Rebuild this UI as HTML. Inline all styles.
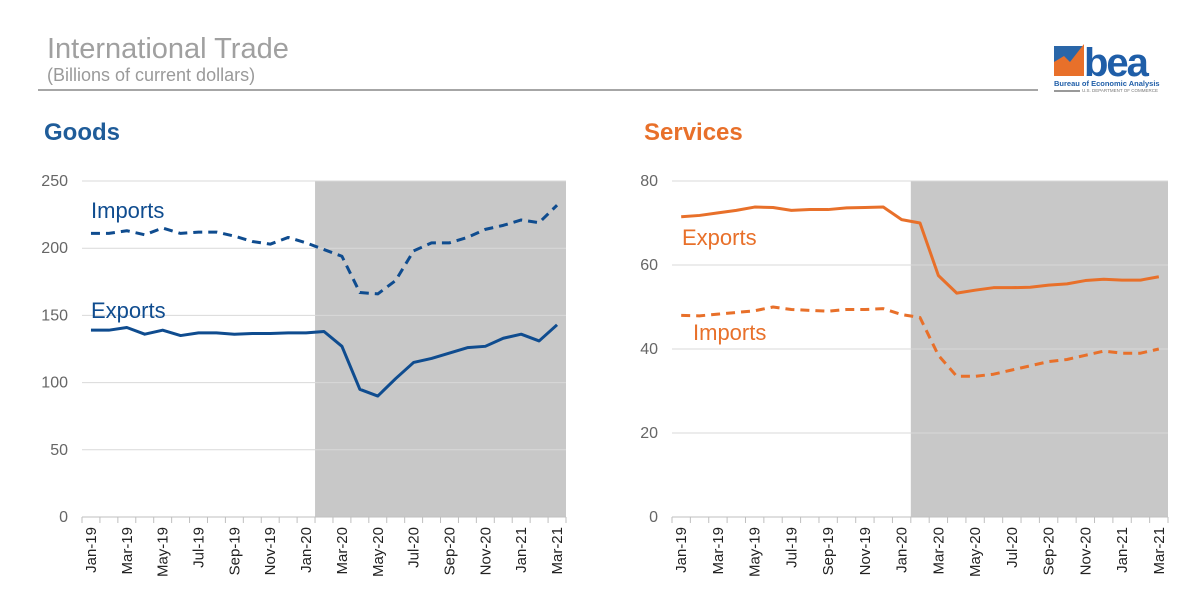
<!DOCTYPE html>
<html><head><meta charset="utf-8"><style>
body{margin:0;width:1187px;height:598px;background:#fff;overflow:hidden;font-family:"Liberation Sans",sans-serif}
</style></head><body>
<svg id="svg" width="1187" height="598" xmlns="http://www.w3.org/2000/svg" font-family="Liberation Sans, sans-serif">
<g>
<text x="47" y="58" font-size="29" fill="#a0a0a0">International Trade</text>
<text x="47" y="81" font-size="18" fill="#9a9a9a">(Billions of current dollars)</text>
<line x1="38" y1="90" x2="1038" y2="90" stroke="#a6a6a6" stroke-width="2"/>
</g>
<g>
<rect x="1054" y="46" width="30" height="30" fill="#2a66a8"/>
<polygon points="1054,76 1054,62 1064,56 1070,62 1084,44 1084,76" fill="#e8702a"/>
<text x="1084" y="76" font-size="40" font-weight="bold" fill="#1f5ea8" letter-spacing="-2">bea</text>
<text x="1054" y="86" font-size="7.5" font-weight="bold" fill="#1f5ea8">Bureau of Economic Analysis</text>
<rect x="1054" y="90" width="26" height="2" fill="#999"/>
<text x="1082" y="92" font-size="4.5" fill="#777">U.S. DEPARTMENT OF COMMERCE</text>
</g>
<text x="44" y="140" font-size="24" font-weight="bold" fill="#1f5c99">Goods</text>
<text x="644" y="140" font-size="24" font-weight="bold" fill="#e8702a">Services</text>
<g id="left"></g><g id="right"></g>
</svg>
<script>
const months = ["Jan-19","Feb-19","Mar-19","Apr-19","May-19","Jun-19","Jul-19","Aug-19","Sep-19","Oct-19","Nov-19","Dec-19","Jan-20","Feb-20","Mar-20","Apr-20","May-20","Jun-20","Jul-20","Aug-20","Sep-20","Oct-20","Nov-20","Dec-20","Jan-21","Feb-21","Mar-21"];
const goodsExports = [139,139,141,136,139,135,137,137,136,136.5,136.5,137,137,138,127,95,90,103,115,118,122,126,127,133,136,131,143];
const goodsImports = [211,211,213,210,215,211,212,212,209,205,203,208,204,199,194,167,166,176,198,204,204,208,214,217,221,219,232];
const servExports = [71.5,71.8,72.4,73,73.8,73.7,73,73.2,73.2,73.6,73.7,73.8,70.8,70,57.5,53.3,54,54.6,54.6,54.7,55.2,55.5,56.3,56.6,56.4,56.4,57.2];
const servImports = [48,47.9,48.3,48.7,49.1,50,49.4,49.2,49,49.4,49.4,49.6,48.2,47.5,38.5,33.5,33.5,34,35,36,37,37.5,38.5,39.5,39,39,40];
const goodsTicks = [0,50,100,150,200,250];
const servTicks = [0,20,40,60,80];
const NS="http://www.w3.org/2000/svg";
function mk(parent,tag,attrs){const e=document.createElementNS(NS,tag);for(const k in attrs)e.setAttribute(k,attrs[k]);parent.appendChild(e);return e;}
function chart(gid,L,R,T,B,ymax,ticks,series,color,labels,name){
  const g=document.getElementById(gid);
  const n=months.length, w=(R-L)/n;
  const x=i=>L+w*(i+0.5), y=v=>B-(B-T)*v/ymax;
  const sh=mk(g,'rect',{x:L+13*w,y:T,width:R-L-13*w,height:B-T,fill:'#c8c8c8'});
  
  
  ticks.forEach(t=>{
    if(t>0){const gl=mk(g,'line',{x1:L,x2:R,y1:y(t),y2:y(t),stroke:'#d9d9d9','stroke-width':1});
    
    }
    const tl=mk(g,'text',{x:L-14,y:y(t)+5,'text-anchor':'end','font-size':16,fill:'#666'});
    tl.textContent=t;
    
    
  });
  const ax=mk(g,'line',{x1:L,x2:R,y1:B,y2:B,stroke:'#bfbfbf','stroke-width':1});
  
  
  for(let i=0;i<=n;i++){const tk=mk(g,'line',{x1:L+w*i,x2:L+w*i,y1:B,y2:B+6,stroke:'#bfbfbf'});
    
    }
  months.forEach((m,i)=>{ if(i%2) return;
    const t=mk(g,'text',{transform:`translate(${x(i)+5},${B+10}) rotate(-90)`,'text-anchor':'end','font-size':15,fill:'#222'});
    t.textContent=m;
    
    
  });
  series.forEach((s,si)=>{
    const p=mk(g,'polyline',{points:s.data.map((v,i)=>x(i)+','+y(v)).join(' '),fill:'none',stroke:color,'stroke-width':3,'stroke-linejoin':'round','stroke-dasharray':s.dash?'9,6':'none'});
    
    
  });
  labels.forEach(l=>{const t=mk(g,'text',{x:l.x,y:l.y,'font-size':22,fill:color});t.textContent=l.t;
    
    });
}
chart('left',82,566,181,517,250,goodsTicks,[{key:'imports',data:goodsImports,dash:true},{key:'exports',data:goodsExports}],'#0f4c8f',[{t:'Imports',x:91,y:218},{t:'Exports',x:91,y:318}],'goods');
chart('right',672,1168,181,517,80,servTicks,[{key:'exports',data:servExports},{key:'imports',data:servImports,dash:true}],'#e8702a',[{t:'Exports',x:682,y:245},{t:'Imports',x:693,y:340}],'services');
</script>
</body></html>
